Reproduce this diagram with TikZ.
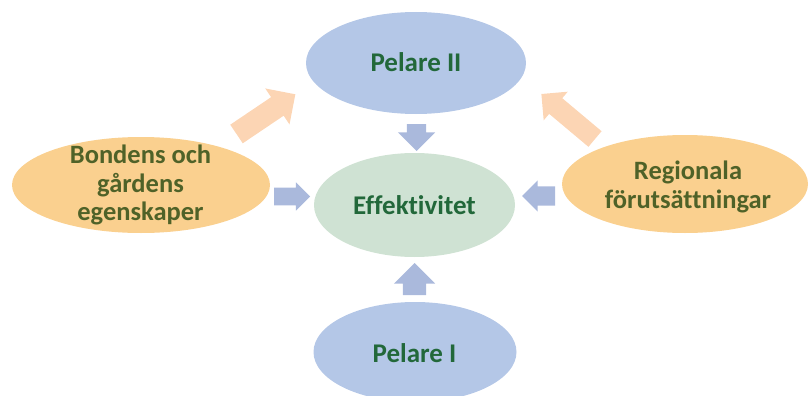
\documentclass[tikz,border=0pt]{standalone}
\usepackage{fontspec}
\setmainfont[Ligatures=NoCommon]{Carlito}
\usetikzlibrary{shapes.geometric,shapes.arrows}

\definecolor{ovalblue}{HTML}{B4C7E7}
\definecolor{ovalgreen}{HTML}{CFE2D3}
\definecolor{ovalorange}{HTML}{FAD08F}
\definecolor{arrowblue}{HTML}{AAB9DC}
\definecolor{arroworange}{HTML}{FCD5B4}
\definecolor{textgreen}{HTML}{22683A}
\definecolor{textolive}{HTML}{4F6228}

\tikzset{
  oval/.style={ellipse, inner sep=0pt, outer sep=0pt},
  ovaltext/.style={align=center, inner sep=0pt, font=\bfseries\fontsize{26.5}{28.5}\selectfont},
  blockarrow/.style={single arrow, inner sep=0pt, outer sep=0pt, anchor=tail,
    single arrow head indent=0pt}
}

\begin{document}
\begin{tikzpicture}[x=1pt,y=-1pt]
  \useasboundingbox (0,0) rectangle (809,396);
  \clip (0,0) rectangle (809,396);

  % ovals
  \node[oval, fill=ovalblue, minimum width=220pt, minimum height=102pt] (pelareII) at (416,63) {};
  \node[oval, fill=ovalgreen, minimum width=201pt, minimum height=104pt] (effekt) at (414.5,205) {};
  \node[oval, fill=ovalblue, minimum width=203pt, minimum height=100pt] (pelareI) at (415,352) {};
  \node[oval, fill=ovalorange, minimum width=258pt, minimum height=96pt] (bonden) at (141,185) {};
  \node[oval, fill=ovalorange, minimum width=246pt, minimum height=98pt] (region) at (685,184) {};

  % texts
  \node[ovaltext, text=textgreen, font=\bfseries\fontsize{27}{29}\selectfont] (pelareIItext) at (416,62) {Pelare II};
  \node[ovaltext, text=textgreen, font=\bfseries\fontsize{27}{29}\selectfont] (effekttext) at (414.5,205) {Effektivitet};
  \node[ovaltext, text=textgreen, font=\bfseries\fontsize{27}{29}\selectfont] (pelareItext) at (414.5,353) {Pelare I};
  \node[ovaltext, text=textolive] (bondentext) at (140.5,185) {Bondens och\\gårdens\\egenskaper};
  \node[ovaltext, text=textolive] (regiontext) at (688,187) {Regionala\\förutsättningar};

  % block arrows
  \node[blockarrow, fill=arrowblue, rotate=-90, minimum height=27pt, inner ysep=9.5pt,
    single arrow head extend=9pt] (downarrow) at (416.5,124) {};
  \node[blockarrow, fill=arrowblue, rotate=90, minimum height=32pt, inner ysep=11.5pt,
    single arrow head extend=9pt] (uparrow) at (414.5,295) {};
  \node[blockarrow, fill=arrowblue, rotate=0, minimum height=36pt, inner ysep=8.75pt,
    single arrow head extend=5.25pt] (rightarrow) at (274,196.5) {};
  \node[blockarrow, fill=arrowblue, rotate=180, minimum height=33pt, inner ysep=9.5pt,
    single arrow head extend=6pt] (leftarrow) at (555,196) {};
  \node[blockarrow, fill=arroworange, rotate=34, minimum height=71pt, inner ysep=11pt,
    single arrow head extend=10.5pt] (bondenarrow) at (236.5,134) {};
  \node[blockarrow, fill=arroworange, rotate=140, minimum height=70pt, inner ysep=10pt,
    single arrow head extend=8.5pt] (regionarrow) at (595,139) {};
\end{tikzpicture}
\end{document}
